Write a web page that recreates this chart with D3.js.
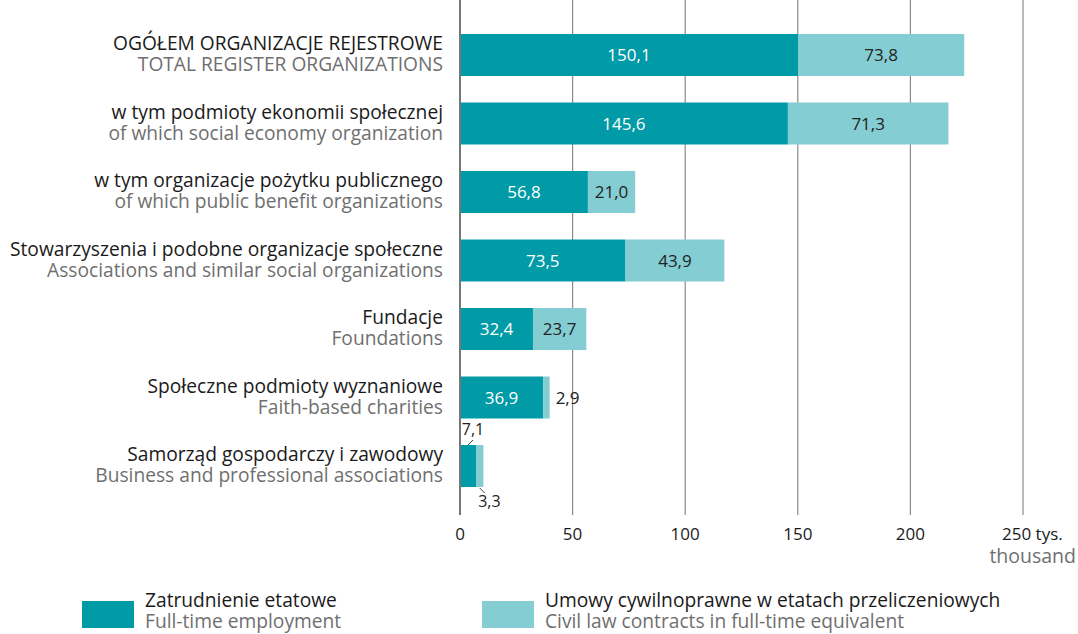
<!DOCTYPE html>
<html>
<head>
<meta charset="utf-8">
<script src="https://cdn.jsdelivr.net/npm/d3@7"></script>
<style>
  body { margin: 0; background: #fff; }
  text { font-family: "Open Sans", sans-serif; }
</style>
</head>
<body>
<script>
// categories (Polish / English)
var namesPl = [
  "OGÓŁEM ORGANIZACJE REJESTROWE",
  "w tym podmioty ekonomii społecznej",
  "w tym organizacje pożytku publicznego",
  "Stowarzyszenia i podobne organizacje społeczne",
  "Fundacje",
  "Społeczne podmioty wyznaniowe",
  "Samorząd gospodarczy i zawodowy"
];
var namesEn = [
  "TOTAL REGISTER ORGANIZATIONS",
  "of which social economy organization",
  "of which public benefit organizations",
  "Associations and similar social organizations",
  "Foundations",
  "Faith-based charities",
  "Business and professional associations"
];
var fullTime = [150.1, 145.6, 56.8, 73.5, 32.4, 36.9, 7.1];
var civilLaw = [73.8, 71.3, 21.0, 43.9, 23.7, 2.9, 3.3];
var xTicks = [0, 50, 100, 150, 200, 250];

var width = 1078, height = 634;
var darkColor = "#009ba6", lightColor = "#84cdd2";
var labelSize = 19.2, numSize = 17;

var svg = d3.select("body").append("svg")
  .attr("width", width)
  .attr("height", height);

var xScale = d3.scaleLinear().domain([0, 250]).range([460, 1023]);
var yScale = d3.scaleBand()
  .domain(d3.range(namesPl.length))
  .range([34, 487])
  .paddingInner(0.387)
  .paddingOuter(0);

function fmt(v) { return v.toFixed(1).replace(".", ","); }

// grid lines
svg.append("g").selectAll("line")
  .data(xTicks.slice(1))
  .enter().append("line")
  .attr("x1", function(d) { return xScale(d); })
  .attr("x2", function(d) { return xScale(d); })
  .attr("y1", 0).attr("y2", 515)
  .attr("stroke", "#8a8a8a")
  .attr("stroke-width", 1.2);

// bars
var rows = svg.append("g").selectAll("g")
  .data(d3.range(namesPl.length))
  .enter().append("g");

rows.append("rect")
  .attr("x", xScale(0))
  .attr("y", function(i) { return yScale(i); })
  .attr("width", function(i) { return xScale(fullTime[i]) - xScale(0); })
  .attr("height", yScale.bandwidth())
  .attr("fill", darkColor);

rows.append("rect")
  .attr("x", function(i) { return xScale(fullTime[i]); })
  .attr("y", function(i) { return yScale(i); })
  .attr("width", function(i) { return xScale(fullTime[i] + civilLaw[i]) - xScale(fullTime[i]); })
  .attr("height", yScale.bandwidth())
  .attr("fill", lightColor);

// zero axis
svg.append("line")
  .attr("x1", xScale(0)).attr("x2", xScale(0))
  .attr("y1", 0).attr("y2", 515)
  .attr("stroke", "#777")
  .attr("stroke-width", 2);

// value labels
rows.each(function(i) {
  var g = d3.select(this);
  var top = yScale(i), bottom = yScale(i) + yScale.bandwidth();
  var cy = (top + bottom) / 2;
  var x0 = xScale(0), x1 = xScale(fullTime[i]), x2 = xScale(fullTime[i] + civilLaw[i]);
  if (i === 6) {
    // tiny segments: labels outside with leader lines
    g.append("text").attr("x", x0 + 13).attr("y", top - 10)
      .attr("text-anchor", "middle").attr("font-size", 16).attr("fill", "#222")
      .text(fmt(fullTime[i]));
    g.append("line").attr("x1", x0 + 13).attr("y1", top - 5)
      .attr("x2", x0 + 8).attr("y2", top)
      .attr("stroke", "#444").attr("stroke-width", 1);
    g.append("text").attr("x", x2 + 6).attr("y", bottom + 20)
      .attr("text-anchor", "middle").attr("font-size", 16).attr("fill", "#222")
      .text(fmt(civilLaw[i]));
    g.append("line").attr("x1", (x1 + x2) / 2).attr("y1", bottom + 1)
      .attr("x2", (x1 + x2) / 2 + 5).attr("y2", bottom + 6)
      .attr("stroke", "#444").attr("stroke-width", 1);
    return;
  }
  g.append("text").attr("x", (x0 + x1) / 2).attr("y", cy)
    .attr("dy", "0.36em").attr("text-anchor", "middle")
    .attr("font-size", numSize).attr("fill", "#fff")
    .text(fmt(fullTime[i]));
  var inside = (x2 - x1) > 40;
  g.append("text")
    .attr("x", inside ? (x1 + x2) / 2 : x2 + 6)
    .attr("y", cy).attr("dy", "0.36em")
    .attr("text-anchor", inside ? "middle" : "start")
    .attr("font-size", numSize).attr("fill", "#222")
    .text(fmt(civilLaw[i]));
});

// category labels
rows.append("text")
  .attr("x", 443)
  .attr("y", function(i) { return yScale(i) + 16; })
  .attr("text-anchor", "end")
  .attr("font-size", labelSize).attr("fill", "#1a1a1a")
  .text(function(i) { return namesPl[i]; });
rows.append("text")
  .attr("x", 443)
  .attr("y", function(i) { return yScale(i) + 37; })
  .attr("text-anchor", "end")
  .attr("font-size", labelSize).attr("fill", "#6f6f6f")
  .text(function(i) { return namesEn[i]; });

// x axis labels
svg.append("g").selectAll("text")
  .data(xTicks)
  .enter().append("text")
  .attr("x", function(d) { return xScale(d); })
  .attr("y", 540)
  .attr("text-anchor", "middle")
  .attr("font-size", numSize).attr("fill", "#1a1a1a")
  .text(function(d) { return d === 250 ? "" : d; });
svg.append("text")
  .attr("x", xScale(250) - 21).attr("y", 540)
  .attr("font-size", numSize).attr("fill", "#1a1a1a")
  .text("250 tys.");
svg.append("text")
  .attr("x", 1076).attr("y", 563)
  .attr("text-anchor", "end")
  .attr("font-size", 19.5).attr("fill", "#6f6f6f")
  .text("thousand");

// legend
var legend = [
  { x: 82, color: darkColor, pl: "Zatrudnienie etatowe", en: "Full-time employment" },
  { x: 482, color: lightColor, pl: "Umowy cywilnoprawne w etatach przeliczeniowych", en: "Civil law contracts in full-time equivalent" }
];
var lg = svg.append("g").selectAll("g").data(legend).enter().append("g");
lg.append("rect")
  .attr("x", function(d) { return d.x; }).attr("y", 601)
  .attr("width", 52).attr("height", 27)
  .attr("fill", function(d) { return d.color; });
lg.append("text")
  .attr("x", function(d) { return d.x + 63; }).attr("y", 607)
  .attr("font-size", labelSize).attr("fill", "#1a1a1a")
  .text(function(d) { return d.pl; });
lg.append("text")
  .attr("x", function(d) { return d.x + 63; }).attr("y", 628)
  .attr("font-size", labelSize).attr("fill", "#6f6f6f")
  .text(function(d) { return d.en; });
</script>
</body>
</html>
